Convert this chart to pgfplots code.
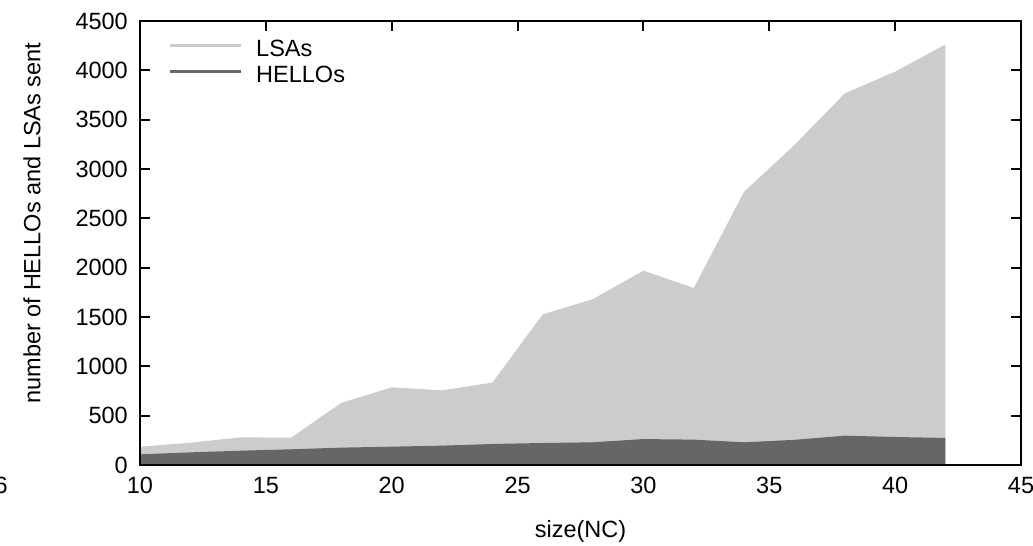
\documentclass[border=0pt]{standalone}
\usepackage{pgfplots}
\pgfplotsset{compat=1.18}
\usepackage{fontspec}
\setmainfont{Liberation Sans}
\definecolor{lsa}{HTML}{CCCCCC}
\definecolor{hello}{HTML}{666666}
\begin{document}
\begin{tikzpicture}
\begin{axis}[
  at={(0,0)}, anchor=south west,
  scale only axis, width=881bp, height=444bp,
  xmin=10, xmax=45, ymin=0, ymax=4500,
  xtick={10,15,...,45}, ytick={0,500,...,4500},
  xtick pos=upper, xticklabel pos=lower,
  axis line style={line width=2.8bp},
  tick style={line width=2bp, black},
  major tick length=10bp,
  tick align=inside,
  font=\fontsize{23.5bp}{26bp}\selectfont,
  /pgf/number format/assume math mode=true,
  /pgf/number format/1000 sep={},
  xticklabel style={anchor=north, inner sep=0pt, yshift=-12bp},
  yticklabel style={anchor=east, inner sep=0pt, xshift=-12bp},
  xlabel={size(NC)},
  ylabel={number of HELLOs and LSAs sent},
  xlabel style={at={(axis description cs:0.5,-0.1486)}, anchor=center},
  ylabel style={at={(axis description cs:-0.1226,0.545)}, anchor=center, rotate=0},
  legend cell align=left,
  legend style={at={(axis description cs:0.0318,0.9595)}, anchor=north west, draw=none, fill=none,
    inner sep=0pt, row sep=9.2bp,
    nodes={inner sep=0pt, text height=17bp, text depth=0bp},
    /tikz/every odd column/.append style={column sep=14bp}},
  legend image code/.code={\draw[#1] (0bp,2bp) -- (71bp,2bp);},
  axis on top,
]
\addplot[fill=lsa, draw=none, forget plot] coordinates {
(10,185) (12,226) (14,280) (16,277) (18,630) (20,787) (22,757) (24,835) (26,1527) (28,1682) (30,1970) (32,1794) (34,2770) (36,3243) (38,3767) (40,3986) (42,4263)
} \closedcycle;
\addplot[fill=hello, draw=none, forget plot] coordinates {
(10,108) (12,128) (14,145) (16,159) (18,176) (20,186) (22,196) (24,213) (26,223) (28,230) (30,263) (32,257) (34,230) (36,255) (38,297) (40,284) (42,274)
} \closedcycle;
\addlegendimage{line width=3bp, lsa}
\addlegendentry{LSAs}
\addlegendimage{line width=3bp, hello}
\addlegendentry{HELLOs}
\end{axis}
\node[anchor=base east, font=\fontsize{23.5bp}{26bp}\selectfont, inner sep=0pt] at (-132bp,-28bp) {6};
\pgfresetboundingbox
\useasboundingbox (-140bp,-81bp) rectangle (893bp,465bp);
\end{tikzpicture}
\end{document}
